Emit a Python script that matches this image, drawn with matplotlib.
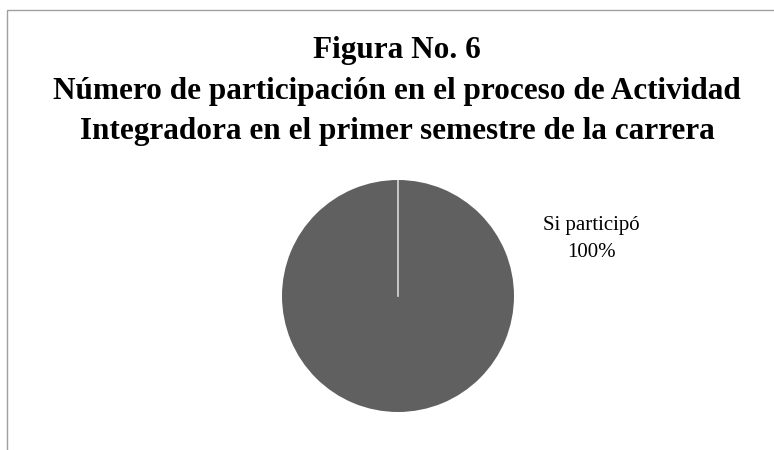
import matplotlib
matplotlib.use("Agg")
import matplotlib.pyplot as plt
from matplotlib.patches import Rectangle

# data
labels = ['Si participó']
values = [100]
colors = ['#606060']
title_lines = [
    'Figura No. 6',
    'Número de participación en el proceso de Actividad',
    'Integradora en el primer semestre de la carrera',
]

W, H = 774, 450
fig = plt.figure(figsize=(W / 100, H / 100), dpi=100)
fig.patch.set_facecolor('white')

# chart border (runs off the right and bottom edges like the source)
fig.patches.append(Rectangle((7 / W, -0.1), 1.2, 1 - 10 / H + 0.1,
                             transform=fig.transFigure, fill=False,
                             edgecolor='#a0a0a0', linewidth=1.0))

fig.text(397 / W, 1 - 91 / H, '\n'.join(title_lines), ha='center', va='center',
         fontsize=22.5, fontweight='bold', family='Liberation Serif',
         linespacing=1.52, color='black')

# pie axes: center ~(398, 296), radius ~116 px
cx, cy, r = 398, 296, 116
ax = fig.add_axes([(cx - r) / W, (H - cy - r) / H, 2 * r / W, 2 * r / H])
wedges, _ = ax.pie(values, colors=colors, startangle=90, counterclock=False,
                   radius=1.0, wedgeprops=dict(linewidth=0))
# slice boundary line
ax.plot([0, 0], [0, 1], color='#d9d9d9', linewidth=1.2)

for lab, v in zip(labels, values):
    ax.text(1.67, 0.49, f'{lab}\n{v}%', ha='center', va='center',
            fontsize=15, family='Liberation Serif', linespacing=1.6,
            clip_on=False)

ax.set_xlim(-1, 1)
ax.set_ylim(-1, 1)
ax.set_aspect('equal')
ax.axis('off')

fig.savefig('out.png', dpi=100)
